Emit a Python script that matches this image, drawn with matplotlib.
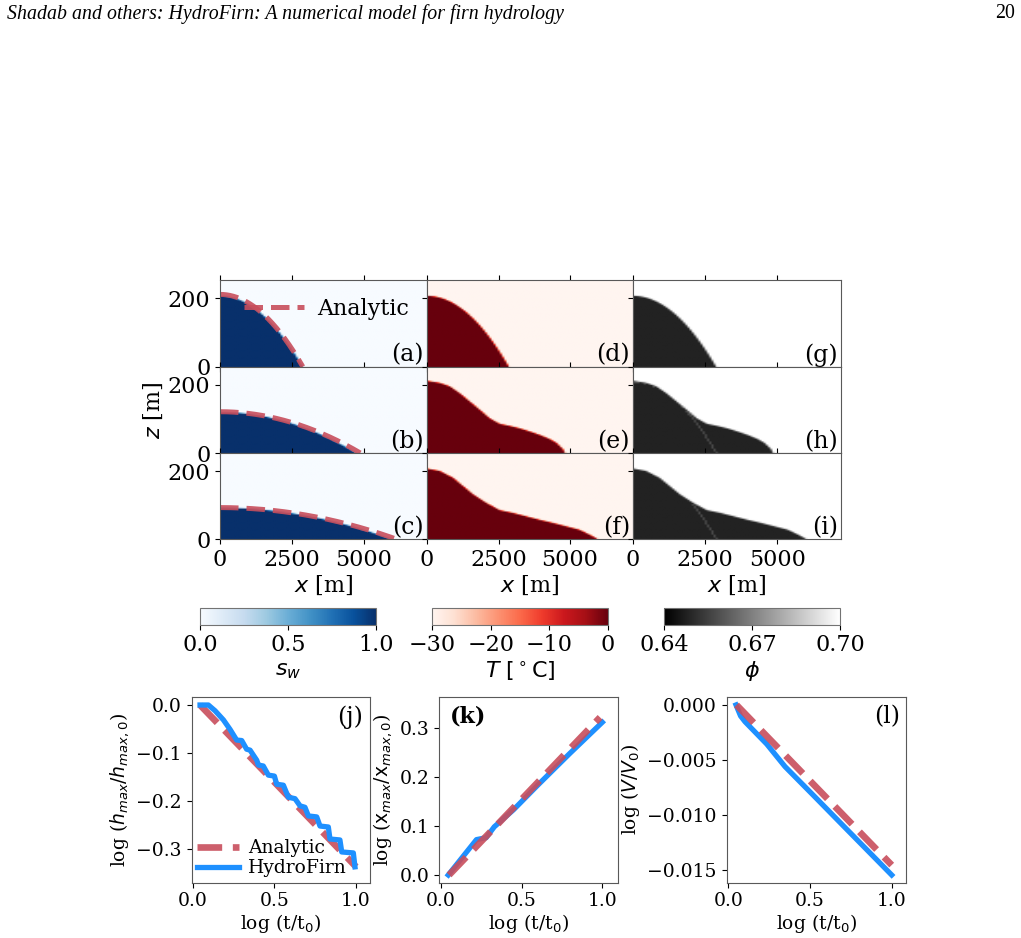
import numpy as np
import matplotlib
matplotlib.use("Agg")
import matplotlib.pyplot as plt
from matplotlib import cm, colors

plt.rcParams['font.family'] = ['DejaVu Serif']
plt.rcParams['mathtext.fontset'] = 'dejavusans'
plt.rcParams['axes.edgecolor'] = '0.35'

# ---------------- data ----------------
# domain of the 2D panels
x_domain = [0, 7200]      # m
z_domain = [0, 253]       # m
# analytic gravity-current (parabolic) profile per time row
h_max_analytic = [211, 121, 93]      # m
x_max_analytic = [2880, 4880, 6150]  # m
# HydroFirn wetted region per time row
h_max_hydro = [207, 119, 91]
x_max_hydro = [2870, 4720, 5920]
# outline of region reached by water (temperature / porosity), rows 2 and 3
env_x_e = [0, 453, 802, 1150, 1500, 1848, 2197, 2545, 2894, 3243, 3591, 3940, 4289, 4521, 4753, 4830]
env_h_e = [210, 204, 194, 174, 150, 126, 101, 85, 79, 72, 63, 53, 41, 30, 12, 0]
env_x_f = [0, 453, 918, 1267, 1616, 2081, 2545, 3010, 3475, 3940, 4404, 4869, 5335, 5683, 5973]
env_h_f = [205, 198, 178, 154, 130, 105, 84, 76, 66, 56, 47, 37, 27, 13, 0]
panel_labels_top = [["(a)", "(b)", "(c)"], ["(d)", "(e)", "(f)"], ["(g)", "(h)", "(i)"]]

# colour-scale ranges
sw_range = [0.0, 1.0]
T_range = [-30, 0]
phi_range = [0.64, 0.70]
phi_wet = 0.648
phi_line = 0.657
sw_ticks = [0.0, 0.5, 1.0]
T_ticks = [-30, -20, -10, 0]
phi_ticks = [0.64, 0.67, 0.70]

# bottom panels
j_t_an = [0.045, 1.0]
j_h_an = [0.0, -0.337]
j_t = [0.045, 0.096, 0.137, 0.188, 0.229, 0.269, 0.300, 0.330, 0.351, 0.392, 0.402, 0.432,
       0.463, 0.500, 0.514, 0.555, 0.585, 0.626, 0.657, 0.687, 0.708, 0.759, 0.779, 0.830,
       0.840, 0.901, 0.912, 0.983, 0.993]
j_h = [0.0, 0.0, -0.012, -0.031, -0.051, -0.073, -0.074, -0.092, -0.094, -0.115, -0.125, -0.127,
       -0.146, -0.148, -0.165, -0.167, -0.192, -0.195, -0.210, -0.213, -0.231, -0.233, -0.252, -0.254,
       -0.279, -0.281, -0.306, -0.308, -0.337]
k_t_an = [0.05, 0.986]
k_x_an = [0.0, 0.321]
k_t = [0.045, 0.13, 0.22, 0.28, 0.33, 0.45, 0.6, 0.8, 1.0]
k_x = [0.0, 0.035, 0.072, 0.076, 0.098, 0.133, 0.183, 0.248, 0.311]
l_t_an = [0.05, 1.0]
l_V_an = [0.0, -0.01455]
l_t = [0.047, 0.075, 0.102, 0.235, 0.347, 0.52, 0.725, 1.0]
l_V = [0.0, -0.0010, -0.00152, -0.00355, -0.0056, -0.0082, -0.0113, -0.01545]

RED = '#C84E5C'
BLUE = '#1E90FF'

# ---------------- figure ----------------
W, H = 1021, 938
fig = plt.figure(figsize=(W / 100, H / 100), dpi=100)


def ax_px(l, t, r, b):
    return fig.add_axes([l / W, 1 - b / H, (r - l) / W, (b - t) / H])


fig.text(7 / W, 1 - 14 / H, "Shadab and others: HydroFirn: A numerical model for firn hydrology",
         family='Liberation Serif', style='italic', fontsize=14.3, va='center', ha='left')
fig.text(1015 / W, 1 - 14 / H, "20", family='Liberation Serif', fontsize=14.3, va='center', ha='right')

# grid for the fields
nx, nz = 96, 60
xe = np.linspace(x_domain[0], x_domain[1], nx + 1)
ze = np.linspace(z_domain[0], z_domain[1], nz + 1)
dz = ze[1] - ze[0]
sub = 4
xs_sub = (xe[:-1, None] + (np.arange(sub)[None, :] + 0.5) / sub * (xe[1] - xe[0]))


def coverage(hfun):
    h = hfun(xs_sub)  # nx x sub
    cov = np.clip((h[None, :, :] - ze[:-1, None, None]) / dz, 0, 1)
    return cov.mean(axis=2)


def parab(h0, xf):
    return lambda x: h0 * np.clip(1 - (np.asarray(x) / xf) ** 2, 0, None)


def interp_fun(xp, hp):
    return lambda x: np.interp(x, xp, hp, right=0.0)


wet_funcs = [parab(h_max_hydro[i], x_max_hydro[i]) for i in range(3)]
env_funcs = [wet_funcs[0], interp_fun(env_x_e, env_h_e), interp_fun(env_x_f, env_h_f)]

# faint trace of the initial dome inside the porosity field
xc = 0.5 * (xe[:-1] + xe[1:])
zc = 0.5 * (ze[:-1] + ze[1:])
XX, ZZ = np.meshgrid(xc, zc)
xcurve = np.linspace(0, x_max_hydro[0], 400)
zcurve = wet_funcs[0](xcurve)
pxx, pxz = 207 / (x_domain[1]), 86.5 / (z_domain[1])
dist = np.min(np.hypot((XX[..., None] - xcurve) * pxx, (ZZ[..., None] - zcurve) * pxz), axis=2)

col_l = [220, 427, 633]
col_r = [427, 633, 841]
row_t = [280, 366.7, 453]
row_b = [366.7, 453, 539.3]

for c in range(3):
    for r in range(3):
        ax = ax_px(col_l[c], row_t[r], col_r[c], row_b[r])
        if c == 0:
            cov = coverage(wet_funcs[r])
            field = sw_range[0] + cov * (sw_range[1] - sw_range[0])
            cmap, vmin, vmax = 'Blues', sw_range[0], sw_range[1]
        elif c == 1:
            cov = coverage(env_funcs[r])
            field = T_range[0] + cov * (T_range[1] - T_range[0])
            cmap, vmin, vmax = 'Reds', T_range[0], T_range[1]
        else:
            cov = coverage(env_funcs[r])
            field = phi_range[1] + cov * (phi_wet - phi_range[1])
            if r > 0:
                line = (dist < 0.9) & (cov > 0.99)
                field = np.where(line, phi_line, field)
            cmap, vmin, vmax = 'gray', phi_range[0], phi_range[1]
        ax.imshow(field, origin='lower', extent=[x_domain[0], x_domain[1], z_domain[0], z_domain[1]],
                  aspect='auto', cmap=cmap, vmin=vmin, vmax=vmax, interpolation='bilinear')
        if c == 0:
            xa = np.linspace(0, x_max_analytic[r], 200)
            ax.plot(xa, parab(h_max_analytic[r], x_max_analytic[r])(xa), '--', color=RED,
                    lw=3.6, alpha=0.9, label='Analytic')
            if r == 0:
                ax.legend(loc='upper right', bbox_to_anchor=(0.945, 0.87), frameon=False, fontsize=16,
                          handlelength=2.7, borderaxespad=0.1, borderpad=0.2, handletextpad=0.6)
        ax.set_xlim(x_domain)
        ax.set_ylim(z_domain)
        ax.set_xticks([0, 2500, 5000])
        ax.set_yticks([0, 200])
        ax.tick_params(labelsize=16, top=True, right=False)
        if c > 0:
            ax.tick_params(labelleft=False)
        if r < 2:
            ax.tick_params(labelbottom=False)
        else:
            ax.set_xlabel("$x$ [m]", fontsize=16, labelpad=2)
        if c == 0 and r == 1:
            ax.set_ylabel("$z$ [m]", fontsize=16, labelpad=2)
        ax.text(0.985, 0.0, panel_labels_top[c][r], transform=ax.transAxes, ha='right', va='bottom',
                fontsize=17)

# colorbars
cb_specs = [([200, 376], 'Blues', sw_range, sw_ticks, ["0.0", "0.5", "1.0"], "$s_w$"),
            ([432, 608], 'Reds', T_range, T_ticks, ["\u221230", "\u221220", "\u221210", "0"],
             "$T\\ [^\\circ\\mathrm{C}]$"),
            ([664, 840], 'gray', phi_range, phi_ticks, ["0.64", "0.67", "0.70"], "$\\phi$")]
for (lr, cmap, rng, ticks, tl, lab) in cb_specs:
    cax = ax_px(lr[0], 608, lr[1], 624.7)
    sm = cm.ScalarMappable(norm=colors.Normalize(rng[0], rng[1]), cmap=cmap)
    cb = fig.colorbar(sm, cax=cax, orientation='horizontal', ticks=ticks)
    cb.ax.set_xticklabels(tl)
    cb.ax.tick_params(labelsize=16)
    cb.outline.set_edgecolor('0.45')
    cb.set_label(lab, fontsize=16, labelpad=2)

# bottom panels
axj = ax_px(191.7, 696.7, 370, 882.7)
axj.plot(j_t_an, j_h_an, '--', color=RED, lw=4.8, alpha=0.9, label='Analytic')
axj.plot(j_t, j_h, '-', color=BLUE, lw=3.8, label='HydroFirn')
axj.set_xlim(-0.006, 1.085)
axj.set_ylim(-0.370, 0.0173)
axj.set_yticks([0.0, -0.1, -0.2, -0.3])
axj.set_ylabel("log ($h_{max}/h_{max,0}$)", fontsize=13.5)
axj.legend(loc='lower left', frameon=False, fontsize=13.5, borderaxespad=0.1, borderpad=0.2,
           handlelength=2.2, labelspacing=0.1, handletextpad=0.5)
axj.text(0.96, 0.955, "(j)", transform=axj.transAxes, ha='right', va='top', fontsize=17)

axk = ax_px(439.3, 696.7, 618.3, 882.7)
axk.plot(k_t, k_x, '-', color=BLUE, lw=3.8)
axk.plot(k_t_an, k_x_an, '--', color=RED, lw=4.8, alpha=0.9)
axk.set_xlim(-0.0105, 1.099)
axk.set_ylim(-0.0157, 0.363)
axk.set_yticks([0.0, 0.1, 0.2, 0.3])
axk.set_ylabel("log ($\\mathrm{x}_{max}/\\mathrm{x}_{max,0}$)", fontsize=13.5)
axk.text(0.06, 0.955, "(k)", transform=axk.transAxes, ha='left', va='top', fontsize=16,
         fontweight='bold')

axl = ax_px(726.7, 696.7, 906, 882.7)
axl.plot(l_t, l_V, '-', color=BLUE, lw=3.8)
axl.plot(l_t_an, l_V_an, '--', color=RED, lw=4.8, alpha=0.9)
axl.set_xlim(-0.01, 1.0875)
axl.set_ylim(-0.01615, 0.00075)
axl.set_yticks([0.0, -0.005, -0.010, -0.015])
axl.set_yticklabels(["0.000", "\u22120.005", "\u22120.010", "\u22120.015"])
axl.set_ylabel("log ($V/V_0$)", fontsize=13.5)
axl.text(0.965, 0.955, "(l)", transform=axl.transAxes, ha='right', va='top', fontsize=17)

for a in (axj, axk, axl):
    a.set_xticks([0.0, 0.5, 1.0])
    a.set_xlabel("log (t/t$_0$)", fontsize=13.5, labelpad=1)
    a.tick_params(labelsize=13.5)

fig.savefig("out.png", dpi=100)
